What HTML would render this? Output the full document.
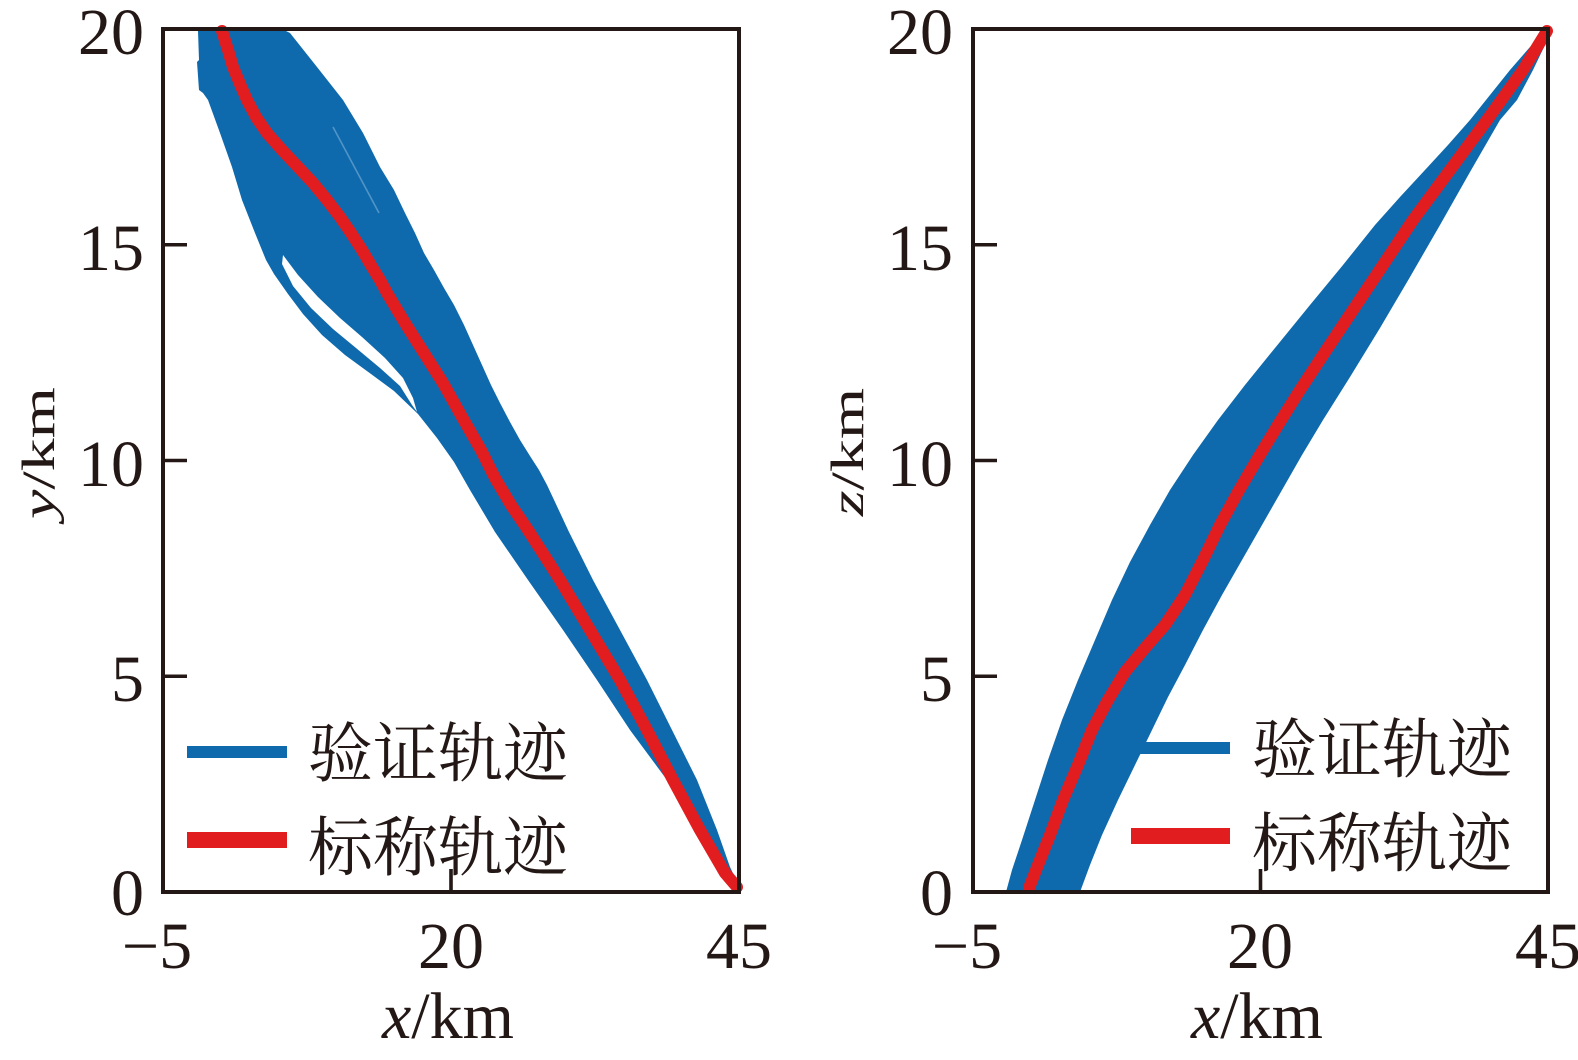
<!DOCTYPE html>
<html>
<head>
<meta charset="utf-8">
<style>
html,body{margin:0;padding:0;background:#fff;}
svg{display:block;}
text{font-family:"Liberation Serif",serif;fill:#231815;}
.cn{font-family:"Liberation Serif","Noto Serif CJK SC","Noto Sans CJK SC",serif;}
</style>
</head>
<body>
<svg width="1578" height="1060" viewBox="0 0 1578 1060" xmlns="http://www.w3.org/2000/svg">
<rect width="1578" height="1060" fill="#fff"/>

<!-- ===== LEFT PLOT ===== -->
<path fill="#0e6aad" fill-rule="evenodd" d="
M198,31 L286,31 L290,33 L317,67 L343,100 L363,133 L380,167 L394,190 L405,213 L415,233 L424,253 L434,270 L444,288 L454,305 L464,325 L473,345 L482,365 L491,385 L500,403 L510,422 L520,440 L530,456 L539,470 L547,485 L555,502 L569,532 L593,580 L620,630 L647,680 L672,730 L697,780 L717,830 L730,867 L741,890 L735,890
L720,867 L700,830 L667,780 L630,730 L597,680 L563,630 L528,580 L495,532 L470,490 L454,462 L437,438 L418,414 L394,391 L371,374 L345,355 L322,335 L303,314 L288,294 L274,274 L266,260 L255,233 L242,200 L232,167 L220,133 L208,100 L203,93 L199,90 L197,62 L199,60 L198,31 Z
M283,255 L298,275 L318,297 L340,318 L362,337 L385,358 L403,378 L413,398 L417,412 L412,405 L400,386 L380,368 L356,348 L333,329 L311,308 L293,286 L282,264 Z"/>
<path d="M333,127 L379,213" stroke="#7fb0d8" stroke-width="1.6" fill="none" opacity="0.6"/>
<polyline fill="none" stroke="#e21d1f" stroke-width="12" stroke-linejoin="round" stroke-linecap="round" points="
222,31 228,50 233,67 240,84 247,100 256,117 267,133 282,150 298,167 313,183 327,200 340,217 351,233 362,250 372,267 380,280 387,293 396,308 405,323 424,353 443,383 462,417 481,450 495,478 511,505 528,530 560,580 590,630 620,680 647,730 673,780 700,830 725,873 737,887"/>
<rect x="163" y="29" width="576" height="863" fill="none" stroke="#231815" stroke-width="4"/>
<g stroke="#231815" stroke-width="3.6">
<line x1="163" y1="244.75" x2="187" y2="244.75"/>
<line x1="163" y1="460.5" x2="187" y2="460.5"/>
<line x1="163" y1="676.25" x2="187" y2="676.25"/>
<line x1="451" y1="892" x2="451" y2="869"/>
</g>
<g font-size="66" text-anchor="end">
<text x="144" y="54">20</text>
<text x="144" y="270">15</text>
<text x="144" y="486">10</text>
<text x="144" y="701">5</text>
<text x="144" y="915">0</text>
</g>
<g font-size="66" text-anchor="middle">
<text x="157" y="968">−5</text>
<text x="451" y="968">20</text>
<text x="739" y="968">45</text>
</g>
<text x="448" y="1038" font-size="66" text-anchor="middle"><tspan font-style="italic">x</tspan>/km</text>
<text font-size="66" text-anchor="middle" transform="translate(54,453) rotate(-90) scale(1,0.7)"><tspan font-style="italic">y</tspan>/km</text>
<line x1="187" y1="752" x2="287" y2="752" stroke="#0e6aad" stroke-width="12"/>
<line x1="187" y1="840" x2="287" y2="840" stroke="#e21d1f" stroke-width="16"/>
<text class="cn" x="308" y="776" font-size="65">验证轨迹</text>
<text class="cn" x="308" y="870" font-size="65">标称轨迹</text>

<!-- ===== RIGHT PLOT ===== -->
<path fill="#0e6aad" d="
M1547,30 L1530,47 L1510,70 L1490,95 L1470,120 L1448,145 L1425,170 L1400,197 L1375,225 L1343,265 L1310,305 L1275,348 L1245,385 L1218,420 L1193,455 L1170,490 L1150,525 L1130,562 L1112,600 L1095,640 L1078,680 L1062,720 L1048,760 L1035,800 L1022,840 L1012,870 L1006,892
L1080,892 L1090,865 L1102,835 L1118,800 L1135,765 L1152,730 L1168,697 L1185,665 L1203,630 L1222,595 L1242,560 L1262,525 L1282,490 L1302,455 L1323,420 L1350,377 L1380,328 L1410,277 L1440,225 L1470,172 L1500,120 L1517,100 L1533,70 L1545,45 L1550,34 Z"/>
<polyline fill="none" stroke="#e21d1f" stroke-width="12" stroke-linejoin="round" stroke-linecap="round" points="
1547,31 1523,70 1487,120 1450,170 1413,220 1383,265 1353,310 1325,352 1300,390 1278,425 1258,458 1238,492 1220,525 1203,560 1185,595 1165,625 1145,648 1125,672 1108,700 1092,730 1078,765 1063,800 1050,835 1038,865 1029,888"/>
<rect x="973" y="29" width="575" height="863" fill="none" stroke="#231815" stroke-width="4"/>
<g stroke="#231815" stroke-width="3.6">
<line x1="973" y1="244.75" x2="997" y2="244.75"/>
<line x1="973" y1="460.5" x2="997" y2="460.5"/>
<line x1="973" y1="676.25" x2="997" y2="676.25"/>
<line x1="1260.5" y1="892" x2="1260.5" y2="869"/>
</g>
<g font-size="66" text-anchor="end">
<text x="953" y="54">20</text>
<text x="953" y="270">15</text>
<text x="953" y="486">10</text>
<text x="953" y="701">5</text>
<text x="953" y="915">0</text>
</g>
<g font-size="66" text-anchor="middle">
<text x="967" y="968">−5</text>
<text x="1260" y="968">20</text>
<text x="1548" y="968">45</text>
</g>
<text x="1257" y="1038" font-size="66" text-anchor="middle"><tspan font-style="italic">x</tspan>/km</text>
<text font-size="66" text-anchor="middle" transform="translate(863,452) rotate(-90) scale(1,0.7)"><tspan font-style="italic">z</tspan>/km</text>
<line x1="1131" y1="748" x2="1230" y2="748" stroke="#0e6aad" stroke-width="12"/>
<line x1="1131" y1="836" x2="1230" y2="836" stroke="#e21d1f" stroke-width="16"/>
<text class="cn" x="1252" y="772" font-size="65">验证轨迹</text>
<text class="cn" x="1252" y="866" font-size="65">标称轨迹</text>
</svg>
</body>
</html>
